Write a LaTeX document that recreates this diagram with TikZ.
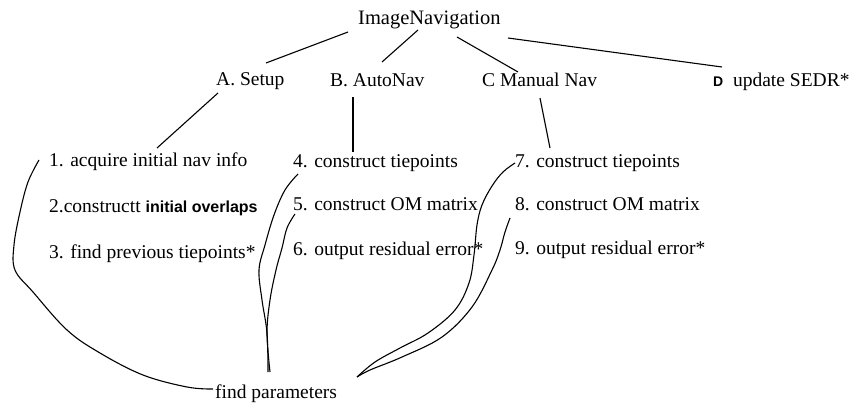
\documentclass[tikz,border=0pt]{standalone}
\usepackage{fontspec}
\setmainfont{Liberation Serif}
\newfontfamily\boldsans{Liberation Sans}
\usetikzlibrary{calc}
\tikzset{
  lbl/.style={anchor=base west, inner sep=0pt, font=\fontsize{19.5}{22}\selectfont},
  toplbl/.style={anchor=base west, inner sep=0pt, font=\fontsize{20.5}{23}\selectfont},
  link/.style={line width=1.1pt, black},
  hand/.style={line width=1.1pt, black, smooth, tension=0.6},
}
\begin{document}
\begin{tikzpicture}[x=1pt, y=-1pt]
\useasboundingbox (0,0) rectangle (856,404);
% nodes
\node[toplbl] (nav) at (358,25) {ImageNavigation};
\node[lbl] (A) at (216,85) {A. Setup};
\node[lbl] (B) at (330,86) {B. AutoNav};
\node[lbl] (C) at (482,86) {C Manual Nav};
\node[lbl] (D) at (713,86) {{\boldsans\bfseries\fontsize{14}{16}\selectfont D}\ \ update SEDR*};
\node[lbl] (s1) at (49,166) {1. acquire initial nav info};
\node[lbl] (s2) at (49,212) {2.constructt {\boldsans\bfseries\fontsize{16}{18}\selectfont initial overlaps}};
\node[lbl] (s3) at (49,258) {3. find previous tiepoints*};
\node[lbl] (s4) at (293,167) {4. construct tiepoints};
\node[lbl] (s5) at (293,210) {5. construct OM matrix};
\node[lbl] (s6) at (293,255) {6. output residual error*};
\node[lbl] (s7) at (515,167) {7. construct tiepoints};
\node[lbl] (s8) at (515,210) {8. construct OM matrix};
\node[lbl] (s9) at (515,254) {9. output residual error*};
\node[lbl] (fp) at (215,398) {find parameters};
% straight connectors
\draw[link] ($(nav.base west)+(-10,7)$) -- ($(A.base west)+(50,-22)$);
\draw[link] ($(nav.base west)+(60,5)$) -- ($(B.base west)+(52,-24)$);
\draw[link] ($(nav.base west)+(99,12)$) -- ($(C.base west)+(36,-14)$);
\draw[link] ($(nav.base west)+(150,13)$) -- ($(D.base west)+(9,-19)$);
\draw[link] ($(A.base west)+(2,8)$) -- ($(s1.base west)+(108,-18)$);
\draw[link] ($(B.base west)+(23,11)$) -- ($(s4.base west)+(60,-15)$);
\draw[link] ($(C.base west)+(58,12)$) -- ($(s7.base west)+(35,-19)$);
% hand-drawn curves
\coordinate (c1a) at ($(s1.base west)+(-10,-6)$);
\coordinate (c1b) at ($(fp.base west)+(-2,-9)$);
\coordinate (c2a) at ($(s4.base west)+(5,7)$);
\coordinate (c2b) at ($(fp.base west)+(53,-26)$);
\coordinate (c3a) at ($(s5.base west)+(2,4)$);
\coordinate (c3b) at ($(fp.base west)+(55,-26)$);
\coordinate (c4a) at ($(s7.base west)+(0,-4)$);
\coordinate (c4b) at ($(fp.base west)+(142,-21)$);
\coordinate (c5a) at ($(s8.base west)+(-5,8)$);
\coordinate (c5b) at ($(fp.base west)+(142,-21)$);
\draw[hand] plot coordinates {(c1a) (28,182) (20,212) (14,245) (15,270) (33,292) (67,330) (100,353) (143,375) (187,387) (c1b)};
\draw[hand] plot coordinates {(c2a) (285,190) (274,215) (265,245) (259,270) (262,300) (267,333) (c2b)};
\draw[hand] plot coordinates {(c3a) (287,228) (282,248) (276,270) (270,300) (267,333) (c3b)};
\draw[hand] plot coordinates {(c4a) (503,172) (492,186) (482,205) (477,225) (474,255) (469,283) (455,310) (428,333) (400,348) (375,362) (c4b)};
\draw[hand] plot coordinates {(c5a) (505,232) (500,250) (492,270) (472,307) (442,337) (402,357) (370,370) (c5b)};
\end{tikzpicture}
\end{document}
